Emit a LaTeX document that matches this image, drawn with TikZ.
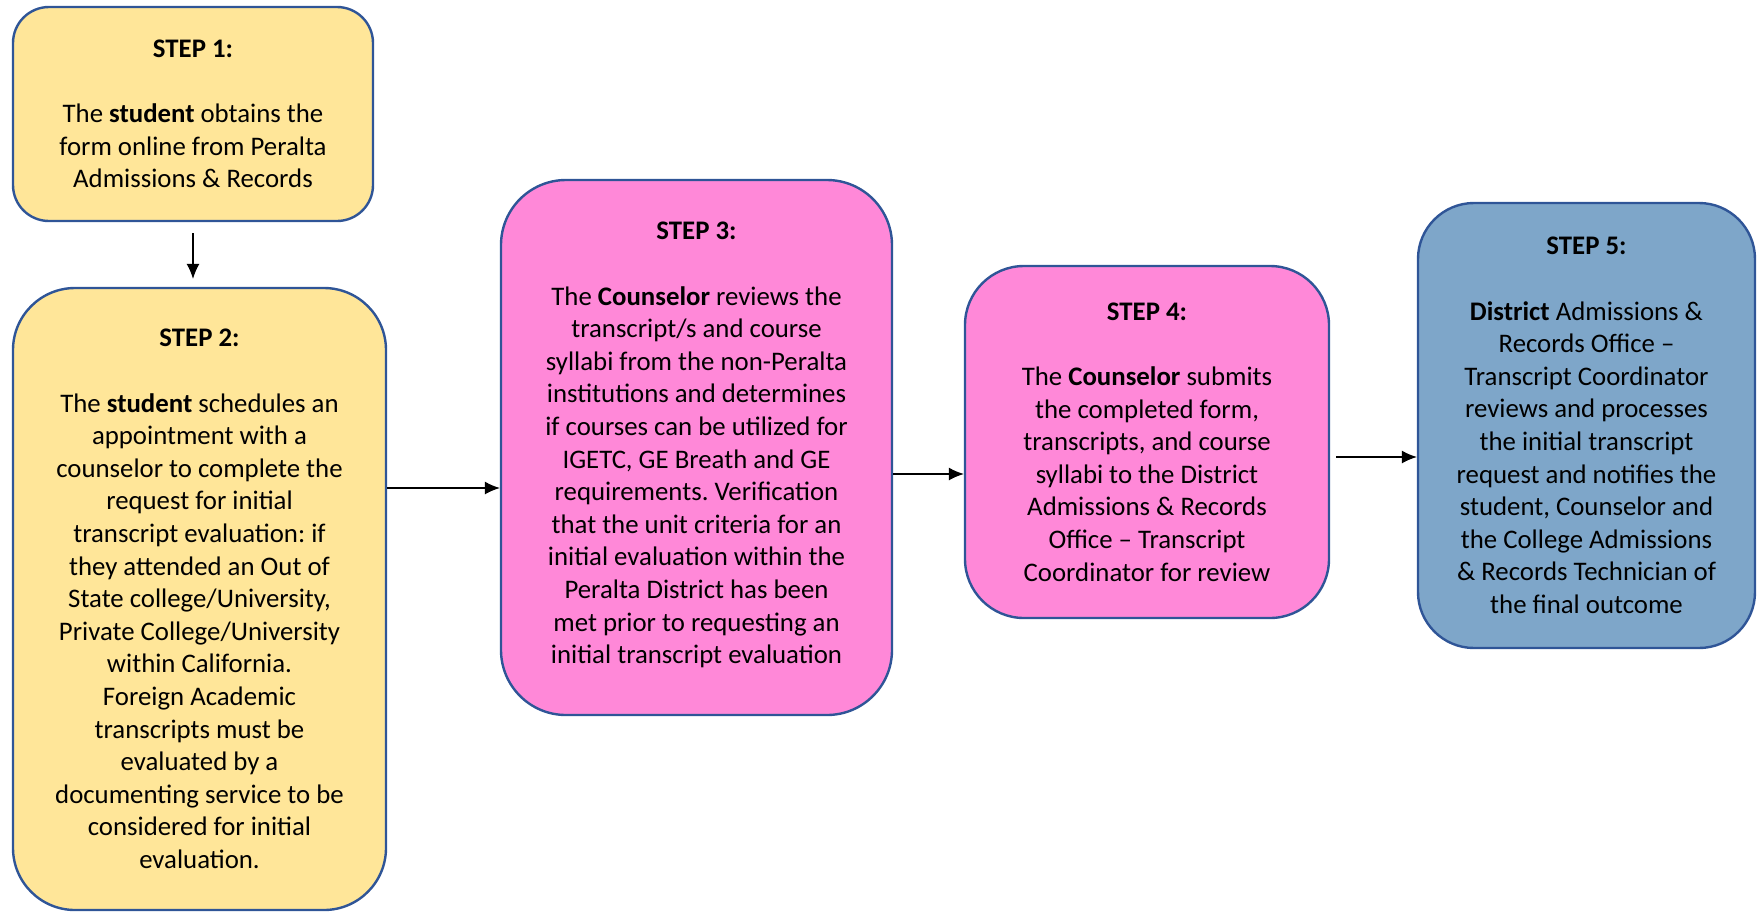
\documentclass[tikz,border=0pt]{standalone}
\usepackage{fontspec}
\setmainfont{Carlito}
\usetikzlibrary{arrows.meta}
\definecolor{stepyellow}{HTML}{FFE699}
\definecolor{steppink}{HTML}{FF88D8}
\definecolor{stepblue}{HTML}{7EA6C9}
\definecolor{stepedge}{HTML}{2F5597}
\tikzset{
  stepbox/.style={draw=stepedge, line width=1.2pt, align=center, inner sep=0pt,
    font=\fontsize{13.4}{16.3}\selectfont\frenchspacing},
  arr/.style={-{Latex[length=7.5pt,width=6.5pt]}, line width=0.6pt}
}
\begin{document}
\begin{tikzpicture}[x=0.5pt,y=-0.5pt]
        \useasboundingbox (0,0) rectangle (1758,912);
        %step 1
        \node[stepbox, fill=stepyellow, minimum width=180pt, minimum height=107pt, rounded corners=18pt] (s1) at (193,114)
        {\textbf{STEP 1:}\\[\baselineskip]The \textbf{student} obtains the\\form online from Peralta\\Admissions \& Records};
        %step 2
        \node[stepbox, fill=stepyellow, minimum width=186.5pt, minimum height=311pt, rounded corners=31pt] (s2) at (199.5,599)
        {\textbf{STEP 2:}\\[\baselineskip]The \textbf{student} schedules an\\appointment with a\\counselor to complete the\\request for initial\\transcript evaluation: if\\they attended an Out of\\State college/University,\\Private College/University\\within California.\\Foreign Academic\\transcripts must be\\evaluated by a\\documenting service to be\\considered for initial\\evaluation.};
        %step 3
        \node[stepbox, fill=steppink, minimum width=195.5pt, minimum height=267.5pt, rounded corners=32.5pt] (s3) at (696.5,447.5)
        {\textbf{STEP 3:}\\[\baselineskip]The \textbf{Counselor} reviews the\\transcript/s and course\\syllabi from the non-Peralta\\institutions and determines\\if courses can be utilized for\\IGETC, GE Breath and GE\\requirements. Verification\\that the unit criteria for an\\initial evaluation within the\\Peralta District has been\\met prior to requesting an\\initial transcript evaluation\\[-11.8pt]};
        %step 4
        \node[stepbox, fill=steppink, minimum width=182pt, minimum height=176pt, rounded corners=29.5pt] (s4) at (1147,442)
        {\textbf{STEP 4:}\\[\baselineskip]The \textbf{Counselor} submits\\the completed form,\\transcripts, and course\\syllabi to the District\\Admissions \& Records\\Office -- Transcript\\Coordinator for review};
        %step 5
        \node[stepbox, fill=stepblue, minimum width=168.5pt, minimum height=222.5pt, rounded corners=28pt] (s5) at (1586.5,425.5)
        {\textbf{STEP 5:}\\[\baselineskip]\textbf{District} Admissions \&\\Records Office --\\Transcript Coordinator\\reviews and processes\\the initial transcript\\request and notifies the\\student, Counselor and\\the College Admissions\\\& Records Technician of\\the final outcome};

        %frecce
        \coordinate (a23) at (0,488);
        \coordinate (a34) at (0,474);
        \coordinate (a45) at (0,457);
        \draw[arr, shorten <=5.5pt, shorten >=4pt] (s1.south) -- (s1.south |- s2.north);
        \draw[arr] (s2.east |- a23) -- (s3.west |- a23);
        \draw[arr] (s3.east |- a34) -- (s4.west |- a34);
        \draw[arr, shorten <=3pt] (s4.east |- a45) -- (s5.west |- a45);
    \end{tikzpicture}
\end{document}
